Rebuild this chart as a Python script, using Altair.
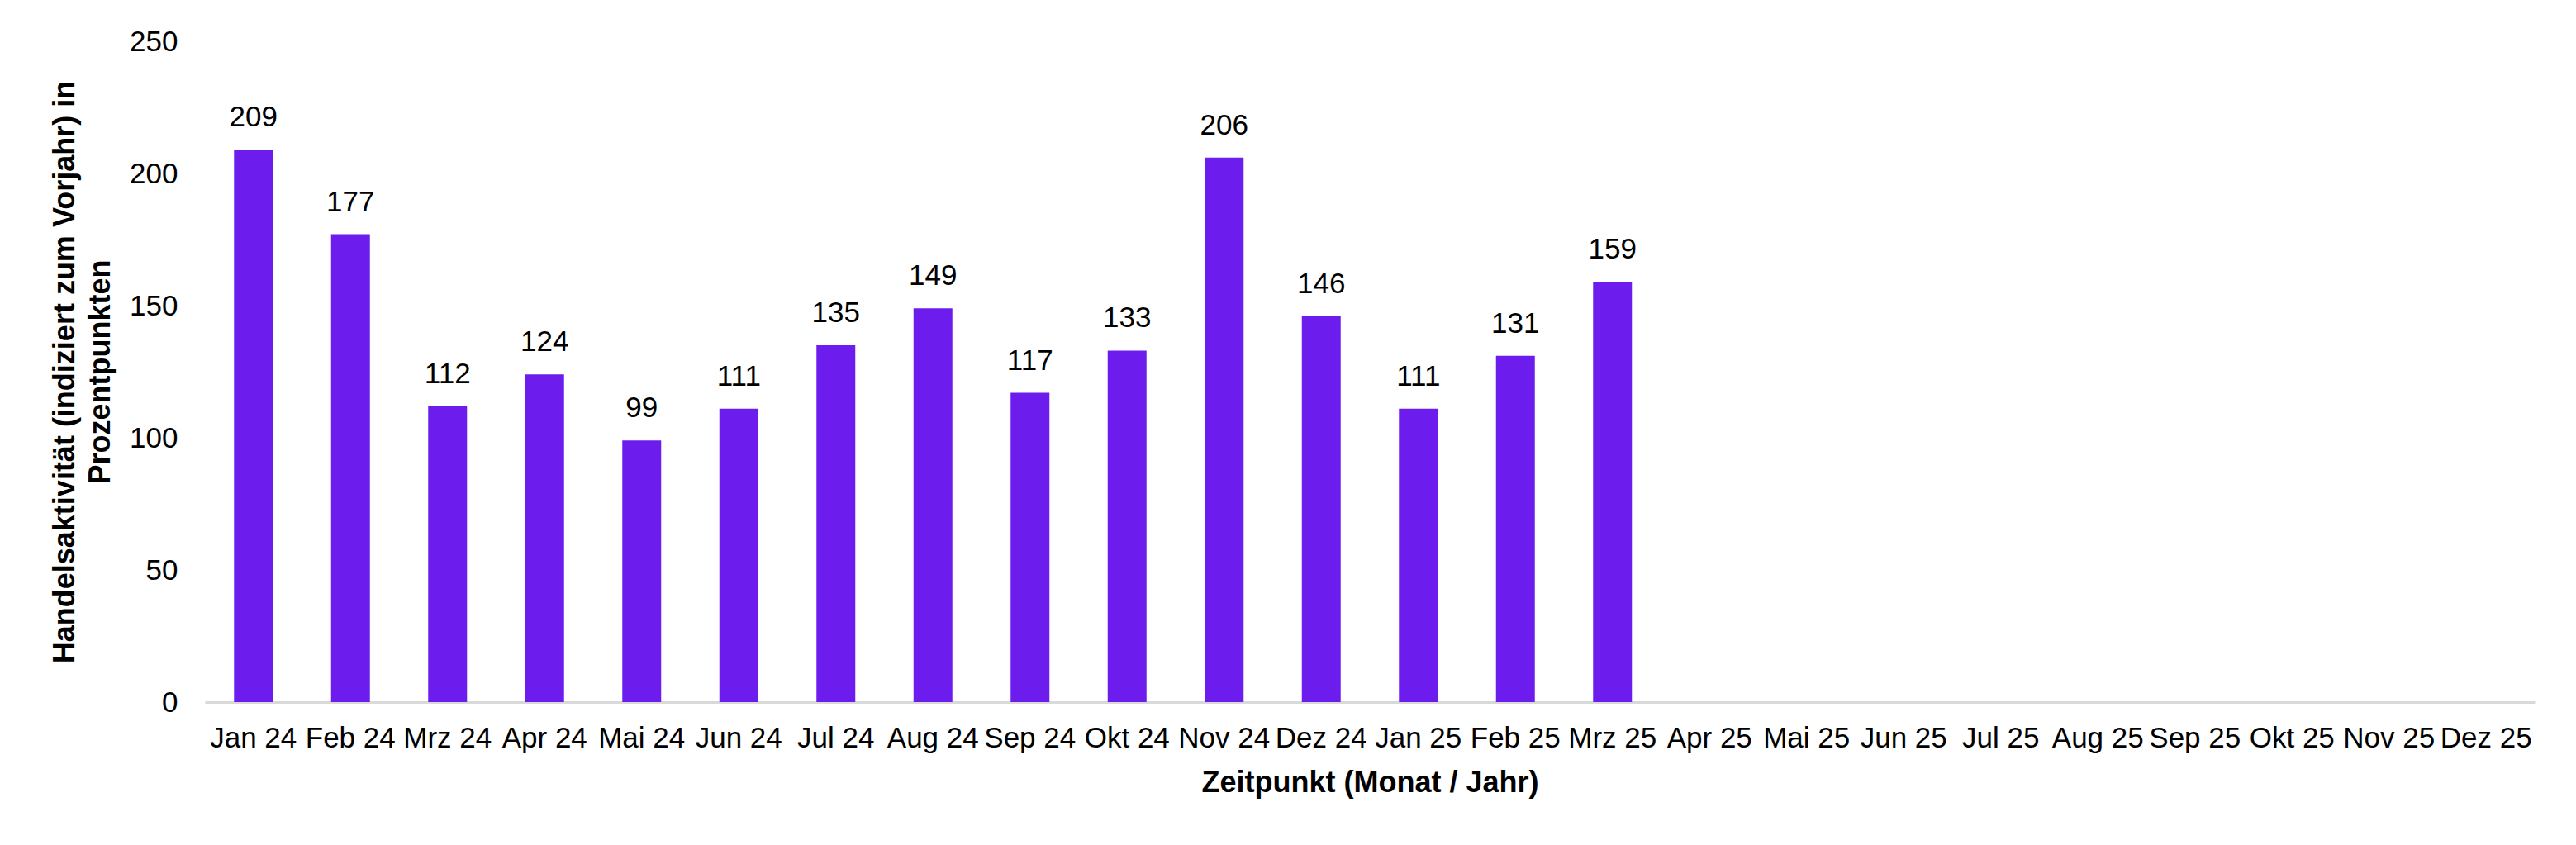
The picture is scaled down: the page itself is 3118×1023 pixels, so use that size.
import altair as alt
import pandas as pd

months = ["Jan 24", "Feb 24", "Mrz 24", "Apr 24", "Mai 24", "Jun 24", "Jul 24", "Aug 24",
          "Sep 24", "Okt 24", "Nov 24", "Dez 24", "Jan 25", "Feb 25", "Mrz 25", "Apr 25",
          "Mai 25", "Jun 25", "Jul 25", "Aug 25", "Sep 25", "Okt 25", "Nov 25", "Dez 25"]
values = [209, 177, 112, 124, 99, 111, 135, 149, 117, 133, 206, 146, 111, 131, 159,
          None, None, None, None, None, None, None, None, None]
y_ticks = [0, 50, 100, 150, 200, 250]

df = pd.DataFrame({"Monat": months, "Wert": values})

FONT = "Liberation Sans"
COLOR = "#6C1DEE"

x = alt.X("Monat:N", sort=months,
          scale=alt.Scale(domain=months, paddingInner=0.6, paddingOuter=0.3),
          axis=alt.Axis(title="Zeitpunkt (Monat / Jahr)", labelAngle=0, ticks=False, tickSize=0,
                        labelPadding=26, labelFontSize=35, labelFont=FONT, labelColor="#000000",
                        domainColor="#d9d9d9", domainWidth=3,
                        titleFont=FONT, titleFontSize=36, titleFontWeight="bold",
                        titleColor="#000000", titlePadding=19, grid=False))
y = alt.Y("Wert:Q",
          scale=alt.Scale(domain=[0, 250], nice=False),
          axis=alt.Axis(title=["Handelsaktivität (indiziert zum Vorjahr) in", "Prozentpunkten"],
                        values=y_ticks, ticks=False, tickSize=0, domain=False, grid=False,
                        labelPadding=33, labelFontSize=35, labelFont=FONT, labelColor="#000000",
                        titleFont=FONT, titleFontSize=36, titleFontWeight="bold",
                        titleColor="#000000", titlePadding=16, titleLineHeight=43))

bars = alt.Chart(df).mark_bar(color=COLOR).encode(x=x, y=y)
labels = alt.Chart(df).transform_filter("datum.Wert != null").mark_text(
    baseline="alphabetic", dy=-28, fontSize=35, font=FONT, color="#000000"
).encode(x=alt.X("Monat:N", sort=months, scale=alt.Scale(domain=months)),
         y="Wert:Q", text="Wert:Q")

chart = alt.layer(bars, labels).properties(
    width=2820, height=800,
    autosize=alt.AutoSizeParams(type="none"),
    padding={"left": 240, "top": 42, "right": 42, "bottom": 150},
).configure(background="#ffffff").configure_view(stroke=None, strokeWidth=0)

chart.save("out.html", embed_options={"renderer": "svg", "actions": False})
